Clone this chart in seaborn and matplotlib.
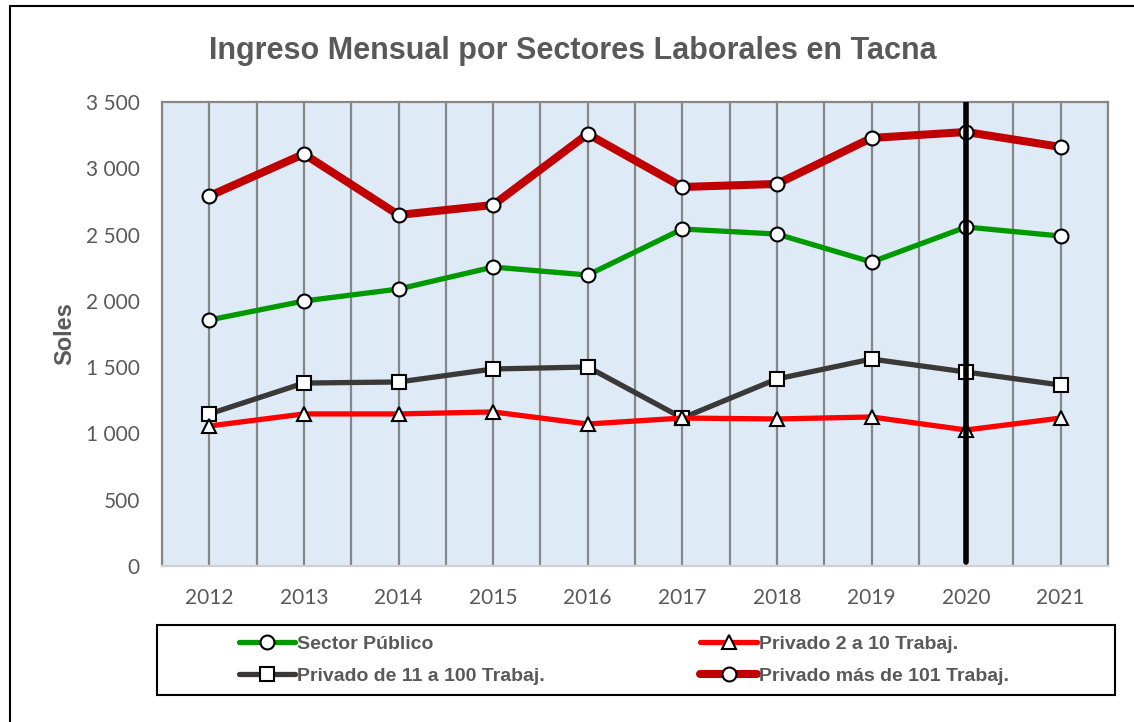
import numpy as np
import pandas as pd
from matplotlib import pyplot as plt
from matplotlib.lines import Line2D
from matplotlib.patches import Rectangle
from matplotlib.ticker import FuncFormatter, MultipleLocator
import seaborn as sns

years = [2012, 2013, 2014, 2015, 2016, 2017, 2018, 2019, 2020, 2021]
sector_publico = [1856, 1999, 2089, 2255, 2195, 2542, 2504, 2293, 2557, 2489]
privado_2_10 = [1056, 1147, 1147, 1162, 1071, 1116, 1109, 1124, 1026, 1116]
privado_11_100 = [1147, 1380, 1388, 1486, 1501, 1116, 1411, 1561, 1463, 1365]
privado_101 = [2791, 3108, 2648, 2723, 3259, 2859, 2882, 3229, 3274, 3161]
marker_year = 2020

sns.set_theme(style="white")
plt.rcParams["font.family"] = ["Liberation Sans", "DejaVu Sans"]

fig = plt.figure(figsize=(11.34, 7.22), dpi=100)
ax = fig.add_axes([0.1429, 0.2161, 0.8342, 0.6426])
ax.set_facecolor("#DEEAF6")

gray_txt = "#595959"

# series: label, values, color, marker, linewidth
series = [
    ("Sector Público", sector_publico, "#009900", "o", 3.8),
    ("Privado de 11 a 100 Trabaj.", privado_11_100, "#3B3838", "s", 3.8),
    ("Privado 2 a 10 Trabaj.", privado_2_10, "#FF0000", "^", 3.8),
    ("Privado más de 101 Trabaj.", privado_101, "#C00000", "o", 5.8),
]

# vertical grid at categories and between them
ax.xaxis.set_major_locator(MultipleLocator(1))
ax.xaxis.set_minor_locator(MultipleLocator(0.5))
ax.grid(True, which="both", axis="x", color="#878787", linewidth=1.6, zorder=0)
ax.set_axisbelow(True)

for label, vals, color, mk, lw in series:
    sns.lineplot(
        x=years, y=vals, ax=ax, color=color, linewidth=lw, marker=mk,
        markersize=10 if mk != "s" else 10.5, markerfacecolor="white",
        markeredgecolor="black", markeredgewidth=1.5, label=label, zorder=3,
    )

ax.plot([marker_year, marker_year], [30, 3490], color="black", linewidth=4, zorder=4)

ax.set_xlim(2011.5, 2021.5)
ax.set_ylim(0, 3500)
ax.set_yticks(np.arange(0, 3501, 500))
ax.yaxis.set_major_formatter(FuncFormatter(lambda v, p: f"{int(v):,}".replace(",", " ")))
ax.set_xticks(years)
ax.tick_params(axis="y", labelsize=15, labelcolor=gray_txt, length=0, pad=16)
ax.tick_params(axis="x", labelsize=15, labelcolor=gray_txt, length=0, pad=16)
for lbl in ax.get_xticklabels() + ax.get_yticklabels():
    lbl.set_family("Lato")

for side in ["left", "right", "top"]:
    ax.spines[side].set_color("#878787")
    ax.spines[side].set_linewidth(1.6)
ax.spines["bottom"].set_color("#D0D0D0")
ax.spines["bottom"].set_linewidth(1.6)

ax.set_ylabel("Soles", fontsize=17, fontweight="bold", color=gray_txt)
ax.yaxis.set_label_coords(-0.091, 0.5)
ax.set_xlabel("")
fig.suptitle("Ingreso Mensual por Sectores Laborales en Tacna", x=0.505, y=0.950,
             fontsize=22, fontweight="bold", color=gray_txt)

handles, labels = ax.get_legend_handles_labels()
ax.get_legend().remove()
leg = fig.legend(
    handles, labels, ncol=2, loc="center",
    bbox_to_anchor=(0.550, 0.0859),
    frameon=False, fontsize=14, columnspacing=8.0,
    handlelength=2.9, handletextpad=0.1, borderaxespad=0, labelspacing=0.75,
)
for t in leg.get_texts():
    t.set_color(gray_txt)
    t.set_fontweight("bold")

# legend box
fig.add_artist(Rectangle((157 / 1134, 1 - 695 / 722), 958 / 1134, 70 / 722,
                         transform=fig.transFigure, fill=False, edgecolor="black",
                         linewidth=1.5))

# outer border of the chart
fig.add_artist(Line2D([10 / 1134, 10 / 1134], [0, 1 - 6 / 722], color="black", linewidth=1.5,
                      transform=fig.transFigure))
fig.add_artist(Line2D([10 / 1134, 1], [1 - 6 / 722, 1 - 6 / 722], color="black", linewidth=1.5,
                      transform=fig.transFigure))

plt.savefig("out.png", dpi=100)
